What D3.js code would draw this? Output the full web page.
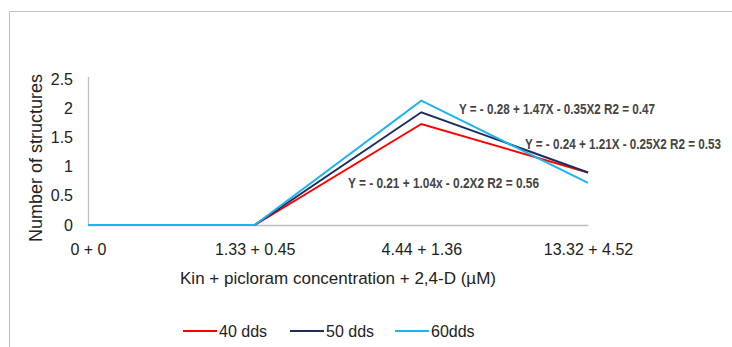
<!DOCTYPE html>
<html>
<head>
<meta charset="utf-8">
<script src="https://d3js.org/d3.v7.min.js"></script>
<style>
body { margin: 0; background: #fff; }
svg { display: block; }
</style>
</head>
<body>
<svg id="chart" width="732" height="347"></svg>
<script>
var categories = ["0 + 0", "1.33 + 0.45", "4.44 + 1.36", "13.32 + 4.52"];
var seriesNames = ["40 dds", "50 dds", "60dds"];
var dds40 = [0, 0, 1.73, 0.9];
var dds50 = [0, 0, 1.93, 0.9];
var dds60 = [0, 0, 2.13, 0.72];
var yTicks = [0, 0.5, 1, 1.5, 2, 2.5];
var equations = [
	"Y = - 0.28 + 1.47X - 0.35X2 R2 = 0.47",
	"Y = - 0.24 + 1.21X - 0.25X2 R2 = 0.53",
	"Y = - 0.21 + 1.04x - 0.2X2 R2 = 0.56"
];

var color = ["#ff0000", "#1f2d5e", "#1cb4ef"];
var series = [dds40, dds50, dds60];
var font = "Liberation Sans, Arial, sans-serif";

var svg = d3.select("#chart");

// outer frame (top and left only visible)
svg.append("path")
	.attr("d", "M9.5,347 V11.5 H732")
	.attr("fill", "none")
	.attr("stroke", "#c0c0c0")
	.attr("stroke-width", 1);

var margin = {left: 88, top: 79},
	width = 500,
	height = 146;

var x = d3.scalePoint()
	.domain(categories)
	.range([0, width]);

var y = d3.scaleLinear()
	.domain([0, 2.5])
	.range([height, 0]);

var g = svg.append("g")
	.attr("transform", "translate(" + margin.left + "," + margin.top + ")");

// axes
var yAxis = d3.axisLeft(y).tickValues(yTicks).tickSize(0).tickPadding(15)
	.tickFormat(function(d) { return d; });
var yg = g.append("g").call(yAxis);
yg.select(".domain").attr("d", "M0.5," + height + "V-2").attr("stroke", "#bfbfbf").attr("stroke-width", 1.3);
yg.selectAll("text")
	.style("font-family", font)
	.style("font-size", "16px")
	.attr("fill", "#222");

var xAxis = d3.axisBottom(x).tickSize(0).tickPadding(19);
var xg = g.append("g").attr("transform", "translate(0," + height + ")").call(xAxis);
xg.select(".domain").attr("stroke", "#bfbfbf").attr("stroke-width", 1.3);
xg.selectAll("text")
	.style("font-family", font)
	.style("font-size", "16px")
	.attr("fill", "#222");

// axis titles
svg.append("text")
	.attr("transform", "translate(42,158) rotate(-90)")
	.attr("text-anchor", "middle")
	.style("font-family", font)
	.style("font-size", "18px")
	.attr("fill", "#222")
	.text("Number of structures");

svg.append("text")
	.attr("x", 338)
	.attr("y", 284)
	.attr("text-anchor", "middle")
	.style("font-family", font)
	.style("font-size", "17px")
	.attr("fill", "#222")
	.text("Kin + picloram concentration  + 2,4-D (\u00b5M)");

// lines
var line = d3.line()
	.x(function(d, i) { return x(categories[i]); })
	.y(function(d) { return y(d); });

g.selectAll(".series")
	.data(series)
	.enter().append("path")
	.attr("class", "series")
	.attr("fill", "none")
	.attr("stroke", function(d, i) { return color[i]; })
	.attr("stroke-width", 2)
	.attr("d", line);

// regression equations
var eqPos = [[459, 114], [525, 149], [348, 188]];
svg.selectAll(".eq")
	.data(equations)
	.enter().append("text")
	.attr("class", "eq")
	.attr("x", function(d, i) { return eqPos[i][0]; })
	.attr("y", function(d, i) { return eqPos[i][1]; })
	.attr("textLength", function(d, i) { return i == 2 ? 191 : 196; })
	.attr("lengthAdjust", "spacingAndGlyphs")
	.style("font-family", font)
	.style("font-size", "14px")
	.style("font-weight", "bold")
	.attr("fill", "#444")
	.text(function(d) { return d; });

// legend
var legX = [183, 290, 395];
var legend = svg.selectAll(".legend")
	.data(seriesNames)
	.enter().append("g")
	.attr("transform", function(d, i) { return "translate(" + legX[i] + ",331)"; });

legend.append("line")
	.attr("x1", 0).attr("x2", 34)
	.attr("y1", 0).attr("y2", 0)
	.attr("stroke", function(d, i) { return color[i]; })
	.attr("stroke-width", 2);

legend.append("text")
	.attr("x", 36)
	.attr("y", 6)
	.style("font-family", font)
	.style("font-size", "16px")
	.attr("fill", "#222")
	.text(function(d) { return d; });
</script>
</body>
</html>
